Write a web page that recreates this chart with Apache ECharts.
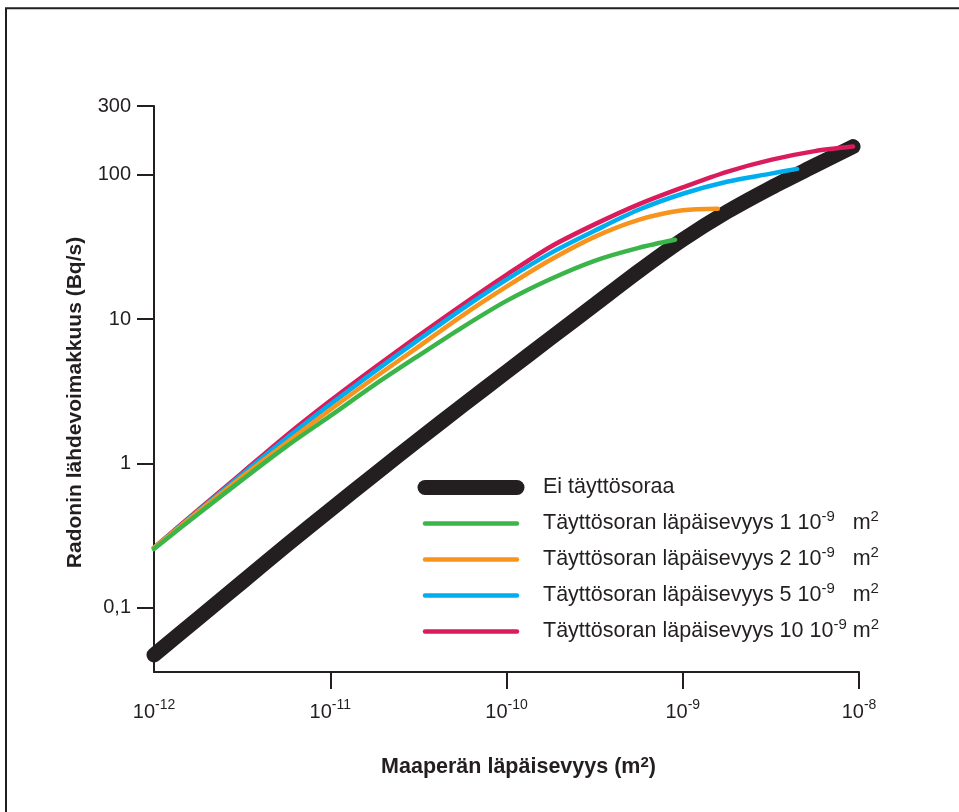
<!DOCTYPE html>
<html>
<head>
<meta charset="utf-8">
<script src="https://cdn.jsdelivr.net/npm/echarts@6/dist/echarts.min.js"></script>
<style>
html,body{margin:0;padding:0;background:#fff;}
#chart{width:959px;height:812px;}
</style>
</head>
<body>
<div id="chart"></div>
<script>
// ---- data: [permeability (m2), radon source strength (Bq/s)] ----
const seriesNames = [
  'Ei täyttösoraa',
  'Täyttösoran läpäisevyys 1 10⁻⁹ m²',
  'Täyttösoran läpäisevyys 2 10⁻⁹ m²',
  'Täyttösoran läpäisevyys 5 10⁻⁹ m²',
  'Täyttösoran läpäisevyys 10 10⁻⁹ m²'
];
const legendLabels = [
  'Ei täyttösoraa{sup| }',
  'Täyttösoran läpäisevyys 1 10{sup|-9}   m{sup|2}',
  'Täyttösoran läpäisevyys 2 10{sup|-9}   m{sup|2}',
  'Täyttösoran läpäisevyys 5 10{sup|-9}   m{sup|2}',
  'Täyttösoran läpäisevyys 10 10{sup|-9} m{sup|2}'
];
const noFill = [[1e-12,0.0472],[1.78e-12,0.0846],[3.16e-12,0.151],[5.62e-12,0.271],[1e-11,0.478],[1.78e-11,0.839],[3.16e-11,1.46],[5.62e-11,2.52],[1e-10,4.32],[1.78e-10,7.40],[3.16e-10,12.6],[5.62e-10,21.5],[1e-9,35.6],[1.78e-9,55.4],[3.16e-9,81.4],[5.62e-9,116],[9.25e-9,157]];
const fill1 = [[1e-12,0.256],[1.78e-12,0.448],[3.16e-12,0.771],[5.62e-12,1.31],[1e-11,2.14],[1.78e-11,3.51],[3.16e-11,5.58],[5.62e-11,8.79],[1e-10,13.4],[1.78e-10,19.0],[3.16e-10,25.4],[5.62e-10,31.2],[9.04e-10,35.5]];
const fill2 = [[1e-12,0.261],[1.78e-12,0.463],[3.16e-12,0.809],[5.62e-12,1.39],[1e-11,2.36],[1.78e-11,3.93],[3.16e-11,6.44],[5.62e-11,10.6],[1e-10,16.8],[1.78e-10,25.8],[3.16e-10,37.2],[5.62e-10,48.8],[1e-9,56.8],[1.58e-9,58.2]];
const fill5 = [[1e-12,0.261],[1.78e-12,0.470],[3.16e-12,0.842],[5.62e-12,1.49],[1e-11,2.57],[1.78e-11,4.34],[3.16e-11,7.19],[5.62e-11,11.8],[1e-10,18.8],[1.78e-10,28.7],[3.16e-10,41.0],[5.62e-10,57.3],[1e-9,74.0],[1.78e-9,89.6],[3.16e-9,102],[4.45e-9,110]];
const fill10 = [[1e-12,0.261],[1.78e-12,0.478],[3.16e-12,0.862],[5.62e-12,1.56],[1e-11,2.72],[1.78e-11,4.61],[3.16e-11,7.67],[5.62e-11,12.6],[1e-10,20.3],[1.78e-10,31.8],[3.16e-10,45.4],[5.62e-10,62.5],[1e-9,81.9],[1.78e-9,105],[3.16e-9,127],[5.62e-9,146],[9.25e-9,157]];
const seriesData = [noFill, fill1, fill2, fill5, fill10];

// ---- axes ----
const xTickExponents = [-12, -11, -10, -9, -8];
const yTickValues = [0.1, 1, 10, 100, 300];
const yTickLabels = ['0,1', '1', '10', '100', '300'];
const yMin = 0.036;
const xMin = 1e-12, xMax = 1e-8;

// ---- styling ----
const colors = ['#231f20', '#3bb54a', '#f7941d', '#00aeef', '#da1c5c'];
const widths = [15, 4.5, 4.5, 4.5, 4.5];
const drawOrder = [0, 4, 3, 2, 1];
const ink = '#231f20';
const font = 'Liberation Sans, Arial, Helvetica, sans-serif';

const L = Math.log10;
const toXY = arr => arr.map(p => [L(p[0]), L(p[1])]);

const chart = echarts.init(document.getElementById('chart'), null, {renderer: 'canvas'});

const series = drawOrder.map(i => ({
  name: seriesNames[i],
  type: 'line',
  data: toXY(seriesData[i]),
  smooth: 0.3,
  symbol: 'none',
  showSymbol: false,
  clip: false,
  silent: true,
  z: 2,
  lineStyle: {color: colors[i], width: widths[i], cap: 'round', join: 'round'},
  itemStyle: {color: colors[i]}
}));

const axisLineStyle = {color: ink, width: 2};

const option = {
  animation: false,
  backgroundColor: '#ffffff',
  textStyle: {fontFamily: font},
  graphic: [{
    type: 'rect',
    shape: {x: 6, y: 8.3, width: 2000, height: 2000},
    style: {fill: 'none', stroke: ink, lineWidth: 2},
    silent: true,
    z: -1
  }],
  grid: {left: 154, right: 100, top: 106, bottom: 140, containLabel: false, outerBoundsMode: 'none'},
  xAxis: {
    type: 'value',
    min: L(xMin), max: L(xMax), interval: 1,
    name: 'Maaperän läpäisevyys (m{s|2})',
    nameLocation: 'middle',
    nameGap: 82,
    nameTextStyle: {
      fontSize: 21.5, fontWeight: 'bold', color: ink, fontFamily: font,
      lineHeight: 26, padding: [0, 0, 0, 24],
      rich: {s: {fontSize: 15, fontWeight: 'bold', color: ink, fontFamily: font, lineHeight: 26, padding: [0, 0, 9, 0]}}
    },
    axisLine: {show: true, onZero: false, lineStyle: axisLineStyle},
    axisTick: {show: true, length: 17, inside: false, lineStyle: axisLineStyle, customValues: xTickExponents.slice(1)},
    axisLabel: {
      show: true, margin: 28, fontSize: 20, color: ink, fontFamily: font, lineHeight: 24,
      customValues: xTickExponents,
      formatter: v => '10{sup|' + Math.round(v) + '}',
      rich: {sup: {fontSize: 14, color: ink, fontFamily: font, lineHeight: 24, padding: [0, 0, 14, 0]}}
    },
    splitLine: {show: false}
  },
  yAxis: {
    type: 'value',
    min: L(yMin), max: L(yTickValues[yTickValues.length - 1]),
    name: 'Radonin lähdevoimakkuus (Bq/s)',
    nameLocation: 'middle',
    nameGap: 68,
    nameTextStyle: {fontSize: 21, fontWeight: 'bold', color: ink, fontFamily: font, padding: [0, 27, 0, 0]},
    axisLine: {show: true, onZero: false, lineStyle: axisLineStyle},
    axisTick: {show: true, length: 17, inside: false, lineStyle: axisLineStyle, customValues: yTickValues.map(L)},
    axisLabel: {
      show: true, margin: 23, fontSize: 20, color: ink, fontFamily: font,
      padding: [0, 0, 8, 0],
      customValues: yTickValues.map(L),
      formatter: v => {
        for (let i = 0; i < yTickValues.length; i++) {
          if (Math.abs(L(yTickValues[i]) - v) < 1e-6) return yTickLabels[i];
        }
        return '';
      }
    },
    splitLine: {show: false}
  },
  legend: {
    orient: 'vertical',
    left: 417.5,
    top: 473,
    padding: 0,
    itemGap: 7,
    itemWidth: 92,
    itemHeight: 14,
    selectedMode: false,
    itemStyle: {opacity: 0},
    data: seriesNames.map((n, i) => ({name: n, lineStyle: {width: widths[i], color: colors[i], cap: 'round', opacity: 1}})),
    formatter: name => legendLabels[seriesNames.indexOf(name)],
    textStyle: {
      fontSize: 21.5, color: ink, fontFamily: font, lineHeight: 24, padding: [0, 0, 0, 21],
      rich: {sup: {fontSize: 15, color: ink, fontFamily: font, lineHeight: 24, padding: [0, 0, 14, 0]}}
    }
  },
  series: series
};

chart.setOption(option);
</script>
</body>
</html>
